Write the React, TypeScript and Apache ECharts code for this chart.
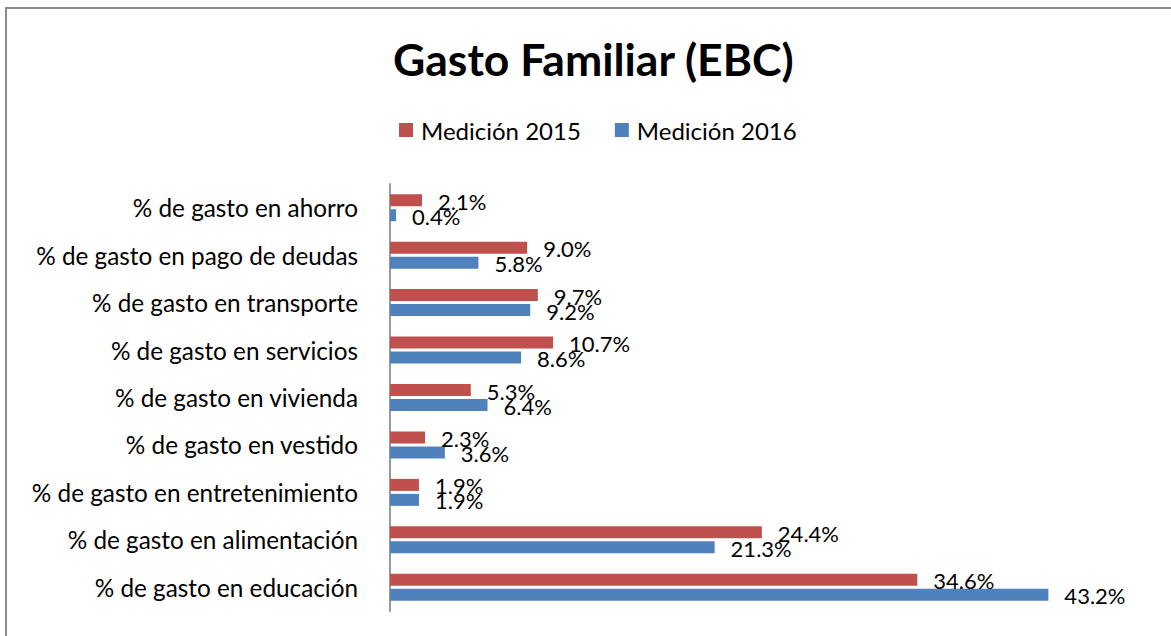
import React, { useEffect, useRef } from "react";
import * as echarts from "echarts";

const categories = [
  "% de gasto en educación",
  "% de gasto en alimentación",
  "% de gasto en entretenimiento",
  "% de gasto en vestido",
  "% de gasto en vivienda",
  "% de gasto en servicios",
  "% de gasto en transporte",
  "% de gasto en pago de deudas",
  "% de gasto en ahorro",
];
const values2015 = [34.6, 24.4, 1.9, 2.3, 5.3, 10.7, 9.7, 9.0, 2.1];
const values2016 = [43.2, 21.3, 1.9, 3.6, 6.4, 8.6, 9.2, 5.8, 0.4];
const seriesNames = ["Medición 2015", "Medición 2016"];

const FONT = "Lato";

export default function App() {
  const ref = useRef<HTMLDivElement>(null);
  useEffect(() => {
    if (!ref.current) return;
    const chart = echarts.init(ref.current, null, { renderer: "svg" });
    const label = {
      show: true,
      position: "right" as const,
      distance: 16,
      offset: [0, 1],
      color: "#000",
      fontFamily: FONT,
      fontSize: 22,
      formatter: (p: any) => Number(p.value).toFixed(1) + "%",
    };
    chart.setOption({
      animation: false,
      backgroundColor: "#fff",
      title: {
        text: "Gasto Familiar (EBC)",
        left: 388,
        top: 31,
        textStyle: { fontFamily: FONT, fontWeight: "bold", fontSize: 44.5, color: "#000" },
      },
      legend: {
        left: 394,
        top: 113,
        itemWidth: 14,
        itemHeight: 14,
        itemGap: 34,
        icon: "rect",
        textStyle: { fontFamily: FONT, fontSize: 24, color: "#000", padding: [0, 0, 0, 3] },
        data: seriesNames,
      },
      graphic: [
        {
          type: "rect",
          shape: { x: 6, y: 8, width: 1400, height: 800 },
          style: { fill: "none", stroke: "#8c8c8c", lineWidth: 2 },
          silent: true,
        },
      ],
      grid: { left: 390, top: 184, width: 762, height: 427 },
      xAxis: {
        type: "value",
        min: 0,
        max: 50,
        show: false,
        splitLine: { show: false },
      },
      yAxis: {
        type: "category",
        data: categories,
        axisLine: { show: true, lineStyle: { color: "#999", width: 2 } },
        axisTick: { show: false },
        axisLabel: { margin: 32, color: "#000", fontFamily: FONT, fontSize: 24.3 },
      },
      series: [
        {
          name: seriesNames[0],
          type: "bar",
          data: values2015,
          barWidth: 12,
          barGap: "25%",
          itemStyle: { color: "#C0504D" },
          label,
        },
        {
          name: seriesNames[1],
          type: "bar",
          data: values2016,
          barWidth: 12,
          barGap: "25%",
          itemStyle: { color: "#4F81BD" },
          label,
        },
      ],
    });
    return () => chart.dispose();
  }, []);
  return (
    <div
      ref={ref}
      style={{ position: "fixed", left: 0, top: 0, width: 1171, height: 636 }}
    />
  );
}
